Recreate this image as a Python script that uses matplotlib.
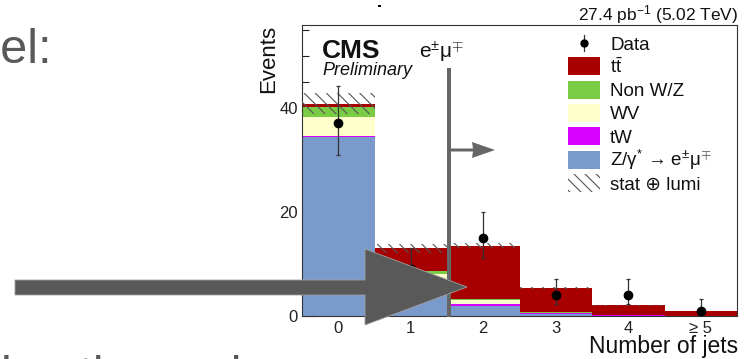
import matplotlib
matplotlib.use("Agg")
import matplotlib.pyplot as plt
from matplotlib.patches import Polygon, Rectangle
from matplotlib.lines import Line2D
from matplotlib.ticker import MultipleLocator, FixedLocator

plt.rcParams['font.family'] = ['Liberation Sans', 'DejaVu Sans']
plt.rcParams['mathtext.fontset'] = 'custom'
plt.rcParams['mathtext.rm'] = 'Liberation Sans'
plt.rcParams['mathtext.it'] = 'Liberation Sans:italic'
plt.rcParams['mathtext.bf'] = 'Liberation Sans:bold'
plt.rcParams['hatch.linewidth'] = 0.8

# ---- jet multiplicity, e±mu∓ channel ----
jet_bins = [0, 1, 2, 3, 4, 5]
jet_labels = ['0', '1', '2', '3', '4', '≥ 5']

# stacked expectations (events), bottom to top
dy_emu = [34.3, 6.5, 1.9, 0.3, 0.05, 0.0]
tw = [0.3, 0.5, 0.5, 0.3, 0.1, 0.05]
wv = [3.7, 1.1, 0.6, 0.05, 0.0, 0.0]
non_wz = [1.9, 0.5, 0.3, 0.05, 0.0, 0.0]
ttbar = [0.6, 4.4, 10.2, 4.75, 1.95, 0.9]
stat_lumi = [2.0, 0.9, 0.5, 0.2, 0.1, 0.05]

# observed events with asymmetric Poisson intervals
data = [37, 9, 15, 4, 4, 1]
data_err_lo = [6.05, 3.10, 3.83, 1.70, 1.70, 0.83]
data_err_hi = [7.12, 4.06, 4.96, 3.16, 3.16, 2.30]

W, H = 746, 359


def P(x, y):
    """pixel position (origin top-left) -> figure fraction"""
    return (x / W, 1 - y / H)


fig = plt.figure(figsize=(W / 100, H / 100), dpi=100)
fig.patch.set_facecolor('white')

ax = fig.add_axes([302 / W, 1 - 316 / H, (737 - 302) / W, (316 - 25) / H])

components = [
    (dy_emu, '#7a9acc', 'Z/γ$^{*}$ → e$^{\\pm}$μ$^{\\mp}$'),
    (tw, '#d800ff', 'tW'),
    (wv, '#ffffcc', 'WV'),
    (non_wz, '#7acc44', 'Non W/Z'),
    (ttbar, '#a80000', 't$\\bar{\\mathrm{t}}$'),
]

bottom = [0.0] * len(jet_bins)
for values, color, label in components:
    ax.bar(jet_bins, values, width=1.0, bottom=bottom, color=color,
           linewidth=0, label=label, zorder=2)
    bottom = [b + v for b, v in zip(bottom, values)]

total = bottom
band_lo = [t - u for t, u in zip(total, stat_lumi)]
band_h = [2 * u for u in stat_lumi]
ax.bar(jet_bins, band_h, width=1.0, bottom=band_lo, facecolor='none',
       edgecolor='#555555', linewidth=0, hatch='\\\\\\', zorder=3)

ax.errorbar(jet_bins, data, yerr=[data_err_lo, data_err_hi], fmt='o',
            color='black', ecolor='#333333', elinewidth=0.9,
            markersize=6, capsize=1.5, capthick=0.9, zorder=5)

ax.set_xlim(-0.5, 5.5)
ax.set_ylim(0, 55.9)

ax.xaxis.set_major_locator(FixedLocator(jet_bins))
ax.set_xticklabels(jet_labels)
ax.yaxis.set_major_locator(FixedLocator([0, 20, 40]))
ax.yaxis.set_minor_locator(MultipleLocator(5))
ax.tick_params(axis='both', which='both', direction='in', top=False,
               right=False, labelsize=12, colors='#222222', width=0.8)
ax.tick_params(axis='y', which='major', length=9, pad=3)
ax.tick_params(axis='y', which='minor', length=5)
ax.tick_params(axis='x', which='major', length=8, pad=3.5)
for s in ax.spines.values():
    s.set_linewidth(0.8)
    s.set_color('#333333')

# legend, one row per entry
row0, pitch = 43.0, 23.3
legend_rows = [('data', None, 'Data')]
legend_rows += [('box', c[1], c[2]) for c in components[::-1]]
legend_rows += [('hatch', None, 'stat ⊕ lumi')]
for i, (kind, color, label) in enumerate(legend_rows):
    yc = row0 + pitch * i
    if kind == 'data':
        fig.lines.append(Line2D([584 / W, 584 / W], [P(0, yc - 8)[1], P(0, yc + 8)[1]],
                                transform=fig.transFigure, color='#333333',
                                linewidth=0.9))
        fig.lines.append(Line2D([584 / W], [P(0, yc)[1]], transform=fig.transFigure,
                                marker='o', markersize=5, color='black',
                                linestyle='none'))
    elif kind == 'box':
        fig.patches.append(Rectangle(P(568, yc + 9), 32 / W, 18 / H,
                                     transform=fig.transFigure,
                                     facecolor=color, linewidth=0))
    else:
        fig.patches.append(Rectangle(P(568, yc + 9), 32 / W, 18 / H,
                                     transform=fig.transFigure,
                                     facecolor='white', edgecolor='#555555',
                                     linewidth=0, hatch='\\\\\\'))
    fig.text(*P(610, yc + 6.5), label, ha='left', va='baseline',
             fontsize=13.5, color='#111111')

# axis titles and labels
fig.text(*P(269, 25), 'Events', rotation=90, ha='center', va='top',
         fontsize=16, color='#111111')
fig.text(*P(738, 353), 'Number of jets', ha='right', va='baseline',
         fontsize=16.5, color='#111111')
fig.text(*P(738, 20), '27.4 pb$^{-1}$ (5.02 TeV)', ha='right', va='baseline',
         fontsize=12.5, color='#111111')
fig.text(*P(322, 58), 'CMS', ha='left', va='baseline', fontsize=19,
         fontweight='bold', color='#111111')
fig.text(*P(322, 75), 'Preliminary', ha='left', va='baseline', fontsize=13,
         fontstyle='italic', color='#111111')
fig.text(*P(419, 58), 'e$^{\\pm}$μ$^{\\mp}$', ha='left', va='baseline',
         fontsize=15, color='#111111')

# channel marker: vertical cut line with arrow pointing to selected region
mark = '#666666'
fig.patches.append(Rectangle(P(447, 317), 4 / W, (317 - 68) / H,
                             transform=fig.transFigure, facecolor=mark,
                             linewidth=0, zorder=10))
fig.patches.append(Polygon([P(451, 148.5), P(473, 148.5), P(472, 142),
                            P(495, 150), P(472, 158), P(473, 151.5),
                            P(451, 151.5)], closed=True,
                           transform=fig.transFigure, facecolor=mark,
                           linewidth=0, zorder=10))

# slide overlay: big arrow and surrounding text
slide_grey = '#595959'
fig.patches.append(Polygon([P(15, 280), P(365, 280), P(365, 249), P(467, 287),
                            P(365, 325), P(365, 295), P(15, 295)], closed=True,
                           transform=fig.transFigure, facecolor=slide_grey,
                           edgecolor='#a0a0a0', linewidth=0.6, zorder=11))
fig.patches.append(Rectangle(P(378, 7), 3 / W, 2 / H, transform=fig.transFigure,
                             facecolor='black', linewidth=0, zorder=11))
fig.text(*P(53, 63), 'annel:', ha='right', va='baseline', fontsize=35,
         color=slide_grey)
fig.text(*P(1, 390), 'ing the and', ha='left', va='baseline', fontsize=35,
         color=slide_grey)

fig.savefig('out.png', dpi=100)
